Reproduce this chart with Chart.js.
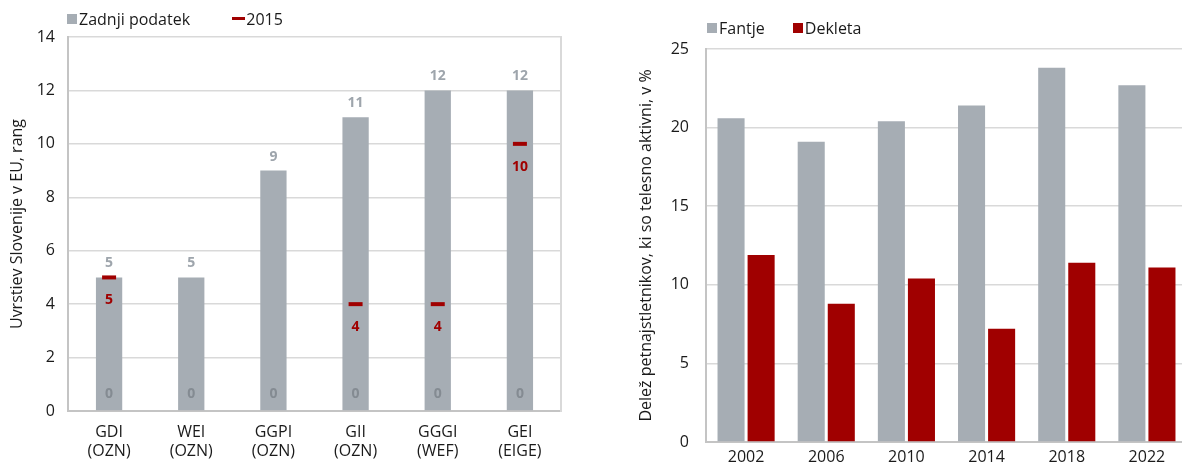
<!DOCTYPE html>
<html lang="sl">
<head>
<meta charset="utf-8">
<script src="https://cdn.jsdelivr.net/npm/chart.js@4.4.1/dist/chart.umd.min.js"></script>
<style>
  html, body { margin: 0; padding: 0; background: #fff; overflow: hidden; }
  body { width: 1182px; height: 464px; position: relative; font-family: "Open Sans", sans-serif; color: #1a1a1a; }
  canvas { position: absolute; top: 0; }
  #levi { left: 0; }
  #desni { left: 600px; }
  .legenda { position: absolute; font-size: 16px; line-height: 20px; white-space: nowrap; }
  .legenda span { display: inline-block; vertical-align: middle; }
  .kv { width: 10px; height: 10px; margin-right: 2px; }
  .crta { width: 13px; height: 3px; margin-right: 1px; }
</style>
</head>
<body>
<canvas id="levi" width="575" height="464"></canvas>
<canvas id="desni" width="590" height="470"></canvas>

<div class="legenda" style="left:67px; top:7px;">
  <span class="kv" style="background:#a6adb4"></span><span>Zadnji podatek</span>
  <span class="crta" style="background:#a00000; margin-left:38px"></span><span>2015</span>
</div>
<div class="legenda" style="left:707px; top:16px;">
  <span class="kv" style="background:#a6adb4"></span><span>Fantje</span>
  <span class="kv" style="background:#a00000; margin-left:24px"></span><span>Dekleta</span>
</div>

<script>
// levi graf: uvrstitev Slovenije v EU po indeksih
const kazalniki = [["GDI", "(OZN)"], ["WEI", "(OZN)"], ["GGPI", "(OZN)"], ["GII", "(OZN)"], ["GGGI", "(WEF)"], ["GEI", "(EIGE)"]];
const zadnjiPodatek = [5, 5, 9, 11, 12, 12];
const leto2015 = [5, null, null, 4, 4, 10];
const izhodisce = [0, 0, 0, 0, 0, 0];

// desni graf: delez telesno aktivnih petnajstletnikov
const leta = ["2002", "2006", "2010", "2014", "2018", "2022"];
const fantje = [20.6, 19.1, 20.4, 21.4, 23.8, 22.7];
const dekleta = [11.9, 8.8, 10.4, 7.2, 11.4, 11.1];

const SIVA = "#a6adb4";
const RDECA = "#a00000";
const MREZA = "#d9d9d9";
const OS = "#c4c4c4";
const pisava = { family: "'Open Sans', sans-serif", size: 16 };

// oznake vrednosti na levem grafu
const oznakePlugin = {
  id: "oznake",
  afterDatasetsDraw(chart) {
    const ctx = chart.ctx;
    ctx.save();
    ctx.font = "bold 14px 'Open Sans', sans-serif";
    ctx.textAlign = "center";
    ctx.textBaseline = "middle";
    chart.getDatasetMeta(1).data.forEach((bar, i) => {
      ctx.fillStyle = "#9ea5ac";
      ctx.fillText(zadnjiPodatek[i], bar.x, bar.y - 14);
      ctx.fillStyle = "#848b92";
      ctx.fillText(izhodisce[i], bar.x, bar.base - 16);
    });
    chart.getDatasetMeta(0).data.forEach((pt, i) => {
      if (leto2015[i] == null || isNaN(pt.y)) return;
      ctx.fillStyle = RDECA;
      ctx.fillText(leto2015[i], pt.x, pt.y + 23);
    });
    ctx.restore();
  },
};

new Chart(document.getElementById("levi"), {
  type: "bar",
  data: {
    labels: kazalniki,
    datasets: [
      {
        type: "line",
        label: "2015",
        data: leto2015,
        showLine: false,
        pointStyle: "line",
        pointRadius: 7,
        pointBorderWidth: 4,
        pointBorderColor: RDECA,
        pointBackgroundColor: RDECA,
        order: 0,
      },
      {
        label: "Zadnji podatek",
        data: zadnjiPodatek,
        backgroundColor: SIVA,
        categoryPercentage: 0.8,
        barPercentage: 0.4,
        order: 1,
      },
    ],
  },
  options: {
    responsive: false,
    animation: false,
    events: [],
    layout: { padding: { top: 37, right: 12, bottom: 0, left: 0 } },
    plugins: { legend: { display: false }, tooltip: { enabled: false } },
    scales: {
      x: {
        grid: { display: false },
        border: { color: OS, width: 2 },
        ticks: { font: pisava, color: "#1a1a1a", padding: 4, maxRotation: 0 },
        afterFit(s) { s.height = 53; },
      },
      y: {
        min: 0,
        max: 14,
        ticks: { stepSize: 2, font: pisava, color: "#1a1a1a", padding: 13 },
        grid: { color: MREZA, lineWidth: 1.5, drawTicks: false },
        border: { color: OS, width: 2 },
        title: { display: true, text: "Uvrstiev Slovenije v EU, rang", font: pisava, color: "#1a1a1a", padding: { top: 8, bottom: 0 } },
        afterFit(s) { s.width = 68; },
      },
      y2: {
        position: "right",
        min: 0,
        max: 14,
        ticks: { display: false },
        grid: { drawOnChartArea: false, drawTicks: false },
        border: { color: MREZA, width: 2 },
        afterFit(s) { s.width = 2; },
      },
    },
  },
  plugins: [oznakePlugin],
});

new Chart(document.getElementById("desni"), {
  type: "bar",
  data: {
    labels: leta,
    datasets: [
      { label: "Fantje", data: fantje, backgroundColor: SIVA, categoryPercentage: 0.75, barPercentage: 0.9 },
      { label: "Dekleta", data: dekleta, backgroundColor: RDECA, categoryPercentage: 0.75, barPercentage: 0.9 },
    ],
  },
  options: {
    responsive: false,
    animation: false,
    events: [],
    layout: { padding: { top: 49, right: 3, bottom: 0, left: 0 } },
    plugins: { legend: { display: false }, tooltip: { enabled: false } },
    scales: {
      x: {
        grid: { display: false },
        border: { color: OS, width: 2 },
        ticks: { font: pisava, color: "#1a1a1a", padding: -2, maxRotation: 0 },
        afterFit(s) { s.height = 28; },
      },
      y: {
        min: 0,
        max: 25,
        ticks: { stepSize: 5, font: pisava, color: "#1a1a1a", padding: 17 },
        grid: { color: MREZA, lineWidth: 1.5, drawTicks: false },
        border: { color: OS, width: 2 },
        title: { display: true, text: "Delež petnajstletnikov, ki so telesno aktivni, v %", font: pisava, color: "#1a1a1a", padding: { top: 37, bottom: 0 } },
        afterFit(s) { s.width = 106; },
      },
    },
  },
});
</script>
</body>
</html>
